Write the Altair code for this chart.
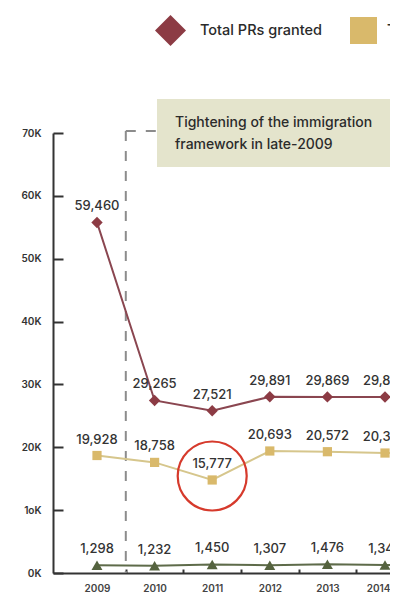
import altair as alt
import pandas as pd

# ---- data ----
years = [2009, 2010, 2011, 2012, 2013, 2014, 2015]
prs_granted = [59460, 29265, 27521, 29891, 29869, 29854, 29800]
citizenships_granted = [19928, 18758, 15777, 20693, 20572, 20348, 20400]
citizenships_renounced = [1298, 1232, 1450, 1307, 1476, 1345, 1400]

series_names = ["Total PRs granted", "Total citizenships granted", "Total citizenships renounced"]
series_colors = ["#8c3b44", "#d9b96b", "#55633f"]
line_colors = ["#8a4650", "#d6c68c", "#5e6b4a"]
series_shapes = ["diamond", "square", "triangle-up"]
series_sizes = [130, 85, 120]
legend_sizes = [961, 729, 841]

y_tick_labels = ["0K", "1oK", "20K", "30K", "40K", "50K", "60K", "70K"]
x_tick_years = [2009, 2010, 2011, 2012, 2013, 2014]
annotation_lines = ["Tightening of the immigration", "framework in late-2009"]
policy_break = 2009.5
highlight_year = years[2]
highlight_value = citizenships_granted[2]

rows = []
for name, vals in zip(series_names, [prs_granted, citizenships_granted, citizenships_renounced]):
    for yr, v in zip(years, vals):
        rows.append({"year": yr, "series": name, "value": v, "label": f"{v:,}"})
df = pd.DataFrame(rows)
legend_df = pd.DataFrame({"series": series_names})

FONT = "Inter"
y_step = 10661
y_max = y_step * 7

PLOT_W = 337
x_values = []
for yr in x_tick_years:
    x_values += [yr, yr + 0.5]

x_scale = alt.Scale(domain=[2008.2361, 2008.2361 + PLOT_W / 57.6], nice=False, zero=False)
x_axis = alt.Axis(
    values=x_values,
    labelExpr="datum.value % 1 === 0 ? '' + datum.value : ''",
    tickOpacity={"condition": {"test": "datum.value % 1 === 0", "value": 0}, "value": 1},
    tickSize={"expr": "-4"},
    tickWidth=2, tickColor="#333333",
    domainColor="#333333", domainWidth=2,
    labelFlush=10, labelFlushOffset=5,
    labelPadding=14, labelFont=FONT, labelFontSize=10, labelFontWeight=600,
    labelColor="#444444", grid=False, title=None,
)
y_scale = alt.Scale(domain=[0, y_max], nice=False, zero=True)
label_array = "[" + ",".join(f"'{t}'" for t in y_tick_labels) + "]"
y_axis = alt.Axis(
    values=[k * y_step for k in range(8)],
    labelExpr=f"{label_array}[round(datum.value / {y_step})]",
    tickSize={"expr": "-10"},
    tickWidth=2, tickColor="#333333",
    domainColor="#333333", domainWidth=2,
    labelPadding=22, labelFont=FONT, labelFontSize=10, labelFontWeight=600,
    labelColor="#333333", grid=False, title=None,
)

X = alt.X("year:Q", scale=x_scale, axis=x_axis)
Y = alt.Y("value:Q", scale=y_scale, axis=y_axis)

base = alt.Chart(df)

lines = base.mark_line(strokeWidth=2, clip=True).encode(
    x=X, y=Y,
    stroke=alt.Stroke("series:N", scale=alt.Scale(domain=series_names, range=line_colors), legend=None),
    detail="series:N",
)

color_enc = alt.Color("series:N", scale=alt.Scale(domain=series_names, range=series_colors), legend=None)
shape_enc = alt.Shape("series:N", scale=alt.Scale(domain=series_names, range=series_shapes), legend=None)

point_layers = []
for name, sz in zip(series_names, series_sizes):
    point_layers.append(
        base.transform_filter(alt.datum.series == name)
        .mark_point(filled=True, opacity=1, strokeWidth=0, size=sz, clip=True)
        .encode(x=X, y=Y, color=color_enc, shape=shape_enc)
    )

labels = base.mark_text(dy=-12, baseline="alphabetic", font=FONT, fontSize=13, fontWeight=500,
                        color="#333333", clip=True).encode(x=X, y=Y, text="label:N")

# legend drawn from the series names (symbol centre x, label start x, in px from the plot's left)
legend_symbol_x = [117.5, 310.5, 503]
legend_label_x = [147, 334, 530]
legend_layers = []
lg = alt.Chart(legend_df)
for name, lsz, sx, tx in zip(series_names, legend_sizes, legend_symbol_x, legend_label_x):
    sel = lg.transform_filter(alt.datum.series == name)
    legend_layers.append(
        sel.mark_point(filled=True, opacity=1, strokeWidth=0, size=lsz).encode(
            x=alt.value(sx), y=alt.value(-102.5), color=color_enc, shape=shape_enc))
    legend_layers.append(
        sel.mark_text(align="left", baseline="middle", font=FONT, fontSize=14.5, fontWeight=500,
                      color="#2a2a2a").encode(x=alt.value(tx), y=alt.value(-102), text="series:N"))

one = alt.Chart(pd.DataFrame({"k": [0]}))

box = one.mark_rect(color="#e4e4cc").encode(
    x=alt.value(104), x2=alt.value(PLOT_W), y=alt.value(-34), y2=alt.value(34))
box_text = one.mark_text(align="left", baseline="alphabetic", font=FONT, fontSize=14, fontWeight=500,
                         color="#2b2b2b", lineHeight=22).encode(
    x=alt.value(122), y=alt.value(-6), text=alt.value(annotation_lines))

X_break = alt.X(datum=policy_break, type="quantitative", scale=x_scale, axis=x_axis)
vrule = one.mark_rule(color="#8c8c8c", strokeWidth=2, strokeDash=[10, 10]).encode(
    x=X_break, y=alt.value(-2), y2=alt.value(440))
hrule = one.mark_rule(color="#8c8c8c", strokeWidth=2, strokeDash=[10, 10]).encode(
    x=X_break, x2=alt.value(104), y=alt.value(-2))

circle = one.mark_point(shape="circle", filled=False, size=4761, strokeWidth=2.2, color="#d63a2c",
                        opacity=1, yOffset=-4).encode(
    x=alt.X(datum=highlight_year, type="quantitative", scale=x_scale, axis=x_axis),
    y=alt.Y(datum=highlight_value, type="quantitative", scale=y_scale, axis=y_axis))

chart = alt.layer(box, box_text, vrule, hrule, lines, *point_layers, labels, circle,
                  *legend_layers).properties(
    width=PLOT_W, height=440,
    padding={"left": 45, "top": 125, "right": 0, "bottom": 20},
    autosize=alt.AutoSizeParams(type="none"),
    background="white",
).configure_view(stroke=None)

chart.save("out.html", embed_options={"renderer": "svg", "actions": False})
